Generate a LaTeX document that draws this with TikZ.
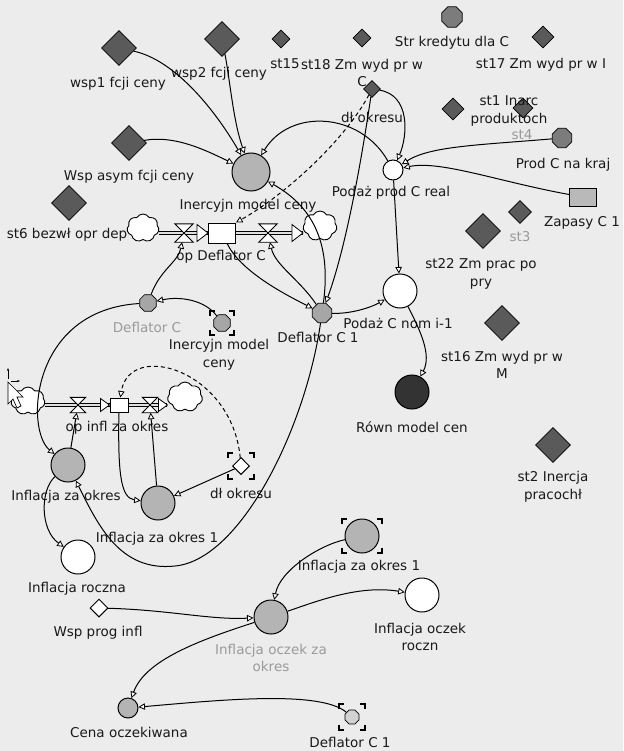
\documentclass[tikz,border=0pt]{standalone}
\usepackage{fontspec}
\setmainfont{DejaVu Sans}
\usetikzlibrary{shapes.geometric,shapes.symbols,arrows.meta}
\definecolor{bgc}{HTML}{ECECEC}
\definecolor{diac}{HTML}{5A5A5A}
\definecolor{convc}{HTML}{B4B4B4}
\definecolor{octdark}{HTML}{7C7C7C}
\definecolor{octlight}{HTML}{A6A6A6}
\definecolor{darkc}{HTML}{333333}
\definecolor{ghostt}{HTML}{9A9A9A}
\newcommand\gbr[4]{%
  \draw[brk] (#1-#3,#2-#4+5)--(#1-#3,#2-#4)--(#1-#3+5,#2-#4);
  \draw[brk] (#1+#3-5,#2-#4)--(#1+#3,#2-#4)--(#1+#3,#2-#4+5);
  \draw[brk] (#1-#3,#2+#4-5)--(#1-#3,#2+#4)--(#1-#3+5,#2+#4);
  \draw[brk] (#1+#3-5,#2+#4)--(#1+#3,#2+#4)--(#1+#3,#2+#4-5);}
\newcommand\valvedraw[1]{\draw[fill=white,line width=0.9pt] (#1.north west) -- (#1.north east) -- (#1.south west) -- (#1.south east) -- cycle;}
\begin{document}
\begin{tikzpicture}[x=1pt,y=-1pt,
  lbl/.style={font=\fontsize{13.5}{17.5}\selectfont, align=center, inner sep=0pt, text=black!90},
  glbl/.style={lbl, text=ghostt},
  bdia/.style={diamond, draw, line width=0.6pt, fill=diac, minimum width=35pt, minimum height=35pt, inner sep=0pt},
  sdia/.style={bdia, minimum width=#1, minimum height=#1},
  wdia/.style={diamond, draw, line width=1pt, fill=white, minimum width=#1, minimum height=#1, inner sep=0pt},
  oct/.style={regular polygon, regular polygon sides=8, draw, line width=0.7pt, fill=octlight, minimum size=#1, inner sep=0pt},
  conv/.style={circle, draw, line width=1pt, fill=convc, minimum size=34pt, inner sep=0pt},
  wconv/.style={conv, fill=white},
  stockbox/.style={rectangle, draw, line width=1pt, fill=white, inner sep=0pt},
  valvebox/.style={rectangle, inner sep=0pt, minimum width=#1, minimum height=#1},
  cloudbox/.style={cloud, draw, line width=0.9pt, fill=white, cloud puffs=7, cloud puff arc=120, cloud ignores aspect, minimum width=32pt, minimum height=28pt, inner sep=0pt},
  con/.style={line width=1pt, -{Triangle[length=6.5pt,width=6.5pt,fill=white,line width=0.8pt]}},
  dcon/.style={con, dash pattern=on 4pt off 3pt},
  pipe/.style={double=gray!25, double distance=2.4pt, line width=0.8pt},
  brk/.style={line width=1.1pt}
]
\fill[bgc] (0,0) rectangle (623,751);
\useasboundingbox (0,0) rectangle (623,751);

% ---- constants (diamonds) ----
\node[bdia] (d1) at (119,48) {};
\node[lbl] (l1) at (118,84) {wsp1 fcji ceny};
\node[bdia] (d2) at (222,39) {};
\node[lbl] (l2) at (219,74) {wsp2 fcji ceny};
\node[bdia] (d3) at (129,143) {};
\node[lbl] (l3) at (129,177) {Wsp asym fcji ceny};
\node[bdia] (d6) at (69,203) {};
\node[lbl] (l6) at (67,235) {st6 bezwł opr dep};
\node[bdia] (d22) at (483,231) {};
\node[lbl] (l22) at (481,274) {st22 Zm prac po\\pry};
\node[bdia] (d16) at (502,323) {};
\node[lbl] (l16) at (502,365) {st16 Zm wyd pr w\\M};
\node[bdia] (d2i) at (553,445) {};
\node[lbl] (l2i) at (553,487) {st2 Inercja\\pracochł};

\node[sdia=18pt] (s15) at (281,39) {};
\node[lbl] (l15) at (285,64) {st15};
\node[sdia=18pt] (s18) at (362,38) {};
\node[lbl] (l18) at (362,73) {st18 Zm wyd pr w\\C};
\node[sdia=22pt] (s17) at (543,37) {};
\node[lbl] (l17) at (541,65) {st17 Zm wyd pr w I};
\node[sdia=22pt] (s1) at (453,109) {};
\node[sdia=20pt] (s4) at (523,108) {};
\node[lbl] (ls1) at (509,111) {st1 Inarc\\produktoch};
\node[glbl] (ls4) at (522,135) {st4};
\node[sdia=23pt] (s3) at (520,212) {};
\node[glbl] (ls3) at (520,237) {st3};
\node[sdia=17pt] (dk) at (372,89) {};
\node[lbl] (ldk) at (372,117) {dł okresu};

% ---- octagons ----
\node[oct=22pt, fill=octdark] (ok) at (452,17) {};
\node[lbl] (lok) at (452,43) {Str kredytu dla C};
\node[oct=21pt, fill=octdark] (pk) at (562,138) {};
\node[lbl] (lpk) at (563,165) {Prod C na kraj};
\node[oct=21pt] (dc1) at (322,313) {};
\node[lbl] (ldc1) at (318,337) {Deflator C 1};
\node[oct=18pt] (dfc) at (148,303) {};
\node[glbl] (ldfc) at (147,327) {Deflator C};
\node[oct=18pt] (gi) at (222,323) {};
\gbr{222}{323}{12}{12}
\node[lbl] (lgi) at (219,355) {Inercyjn model\\ceny};
\node[oct=15pt, fill=gray!35] (gdc) at (352,717) {};
\gbr{352}{717}{13}{13}
\node[lbl] (lgdc) at (350,742) {Deflator C 1};

% ---- level box ----
\node[rectangle, draw, line width=0.9pt, fill=gray!55, minimum width=27pt, minimum height=18pt, inner sep=0pt] (zp) at (583,197) {};
\node[lbl] (lzp) at (582,223) {Zapasy C 1};

% ---- converters ----
\node[conv, minimum size=38pt] (gc) at (251,172) {};
\node[wconv, minimum size=20pt] (pr) at (393,170) {};
\node[lbl] (lpr) at (391,193) {Podaż prod C real};
\node[wconv] (pn) at (400,291) {};
\node[lbl] (lpn) at (398,323) {Podaż C nom i-1};
\node[conv, fill=darkc] (rm) at (412,392) {};
\node[lbl] (lrm) at (412,427) {Równ model cen};
\node[conv] (iz) at (68,465) {};
\node[lbl] (liz) at (66,497) {Inflacja za okres};
\node[conv] (iz1) at (158,503) {};
\node[lbl] (liz1) at (157,539) {Inflacja za okres 1};
\node[wconv] (ir) at (78,557) {};
\node[lbl] (lir) at (77,589) {Inflacja roczna};
\node[conv] (io) at (271,617) {};
\node[glbl] (lio) at (271,658) {Inflacja oczek za\\okres};
\node[conv] (giz) at (362,536) {};
\gbr{362}{536}{20}{17}
\node[lbl] (lgiz) at (359,567) {Inflacja za okres 1};
\node[wconv] (ior) at (422,595) {};
\node[lbl] (lior) at (420,637) {Inflacja oczek\\roczn};
\node[conv, minimum size=20pt] (co) at (128,708) {};
\node[lbl] (lco) at (129,732) {Cena oczekiwana};
\node[wdia=17pt] (gd) at (241,466) {};
\gbr{241}{466}{13}{13}
\node[lbl] (lgd) at (241,493) {dł okresu};
\node[wdia=18pt] (wp) at (99,608) {};
\node[lbl] (lwp) at (98,633) {Wsp prog infl};

% ---- flow 1 ----
\node[cloudbox] (cl1) at (143,228) {};
\node[cloudbox, minimum width=34pt, minimum height=30pt] (cl2) at (320,226) {};
\node[stockbox, minimum width=27pt, minimum height=20pt] (st1) at (222,233) {};
\node[valvebox=18pt] (v1) at (184,233) {};
\node[valvebox=18pt] (v4) at (268,233) {};
\draw[pipe] (cl1.east |- st1.west) -- (st1.west);
\draw[pipe] (st1.east) -- (cl2.west |- st1.east);
\valvedraw{v1}
\valvedraw{v4}
\draw[fill=white,line width=0.8pt] (st1.west) -- ++(-11,-8.5) -- ++(0,17) -- cycle;
\draw[fill=white,line width=0.8pt] (cl2.west |- st1.east) -- ++(-11,-8.5) -- ++(0,17) -- cycle;
\node[lbl] (lst1) at (248,206) {Inercyjn model ceny};
\node[lbl] (lv1) at (221,257) {op Deflator C};

% ---- flow 2 ----
\node[cloudbox, minimum width=34pt, minimum height=28pt] (cl3) at (28,401) {};
\node[cloudbox, minimum width=35pt, minimum height=30pt] (cl4) at (185,397) {};
\node[stockbox, minimum width=18pt, minimum height=14pt] (st2) at (119,405) {};
\node[valvebox=15pt] (v2) at (78,405) {};
\node[valvebox=15pt] (v3) at (150,405) {};
\draw[pipe] (cl3.east |- st2.west) -- (st2.west);
\draw[pipe] (st2.east) -- (cl4.west |- st2.east);
\valvedraw{v2}
\valvedraw{v3}
\draw[fill=white,line width=0.8pt] (st2.west) -- ++(-9,-6.5) -- ++(0,13) -- cycle;
\draw[fill=white,line width=0.8pt] (cl4.west |- st2.east) -- ++(-9,-6.5) -- ++(0,13) -- cycle;
\node[lbl] (lv2) at (117,428) {op infl za okres};
% cursor
\draw[fill=white,line width=0.7pt] (8,382) -- (8,404) -- (13,399) -- (17,408) -- (21,406) -- (17,397) -- (23,397) -- cycle;
\draw[line width=0.7pt,-{Stealth[length=3pt]}] (8,379) -- (8,368);
\draw[line width=0.7pt,-{Stealth[length=3pt]}] (11,381) -- (20,381);

% ---- connectors ----
\draw[con] (d1) .. controls (175,60) and (215,110) .. (gc);
\draw[con] (d2) .. controls (230,80) and (233,120) .. (gc);
\draw[con] (d3) .. controls (175,135) and (205,150) .. (gc);
\draw[con] (pr) .. controls (360,112) and (290,108) .. (gc);
\draw[dcon] (dk) .. controls (345,140) and (285,195) .. (st1.north east);
\draw[con] (dc1) .. controls (332,240) and (310,205) .. (gc);
\draw[con] (dk) .. controls (410,95) and (408,135) .. (pr);
\draw[con] (pk) .. controls (480,145) and (430,146) .. (pr);
\draw[con] (zp) .. controls (500,182) and (440,160) .. (pr);
\draw[con] (pr) -- (pn);
\draw[con] (dc1) .. controls (350,314) and (370,308) .. (pn);
\draw[con] (pn) .. controls (420,330) and (432,355) .. (rm);
\draw[con] (dc1) .. controls (305,430) and (240,560) .. (175,566) .. controls (120,572) and (98,525) .. (iz);
\draw[con] (gi) .. controls (205,300) and (180,296) .. (dfc);
\draw[con] (dfc) .. controls (160,270) and (178,262) .. (v1);
\draw[con] (dfc) .. controls (30,310) and (25,430) .. (iz);
\draw[con] (iz) -- (v2);
\draw[con] (st2) .. controls (118,470) and (120,498) .. (iz1);
\draw[con] (iz1) -- (v3);
\draw[con] (gd) -- (iz1);
\draw[dcon] (gd) .. controls (232,370) and (130,340) .. (st2);
\draw[con] (iz) .. controls (40,490) and (40,530) .. (ir);
\draw[con] (giz) .. controls (320,545) and (280,570) .. (io);
\draw[con] (wp) .. controls (170,610) and (210,620) .. (io);
\draw[con] (io) .. controls (320,600) and (360,585) .. (ior);
\draw[con] (io) .. controls (200,640) and (145,660) .. (co);
\draw[con] (gdc) .. controls (320,690) and (220,700) .. (co);
\draw[con] (st1) .. controls (240,270) and (280,292) .. (dc1);
\draw[con] (dc1) .. controls (300,280) and (275,265) .. (v4);
\draw[con] (dk) .. controls (360,170) and (345,250) .. (dc1);
\end{tikzpicture}
\end{document}
